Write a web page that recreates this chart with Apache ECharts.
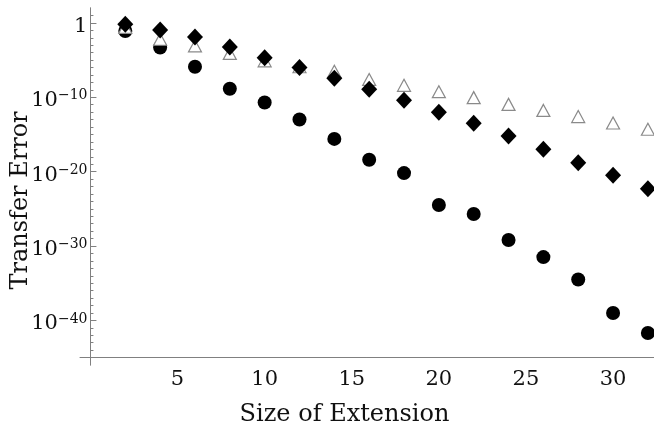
<!DOCTYPE html>
<html><head><meta charset="utf-8">
<script src="https://cdn.jsdelivr.net/npm/echarts@6/dist/echarts.min.js"></script>
<style>html,body{margin:0;padding:0;background:#fff}#c{width:654px;height:425px}</style>
</head><body><div id="c"></div>
<script>
// Size of extension
const sizes = [2,4,6,8,10,12,14,16,18,20,22,24,26,28,30,32];
// Transfer error
const circleErr = [7.9e-2,5.0e-4,1.26e-6,1.4e-9,2.0e-11,1.0e-13,2.5e-16,4.0e-19,6.3e-21,3.2e-25,2.0e-26,6.3e-30,3.2e-32,3.2e-35,1.0e-39,2.0e-42];
const diamondErr = [0.63,0.11,1.26e-2,5.6e-4,2.0e-5,1.0e-6,3.5e-8,1.15e-9,4.0e-11,1.0e-12,3.2e-14,6.3e-16,1.0e-17,1.6e-19,3.2e-21,5.0e-23];
const triangleErr = [0.25,6.3e-3,7.9e-4,7.9e-5,7.9e-6,1.26e-6,3.2e-7,2.5e-8,4.0e-9,5.6e-10,8.9e-11,1.1e-11,1.7e-12,2.5e-13,3.4e-14,5.0e-15];
// tick labels
const xTicks = [5,10,15,20,25,30];
const yMajor = [1e-40,1e-30,1e-20,1e-10,1];
const yMinor = [];
for (let e = -45; e <= 1; e++) yMinor.push(Math.pow(10, e));

const FONT = 'DejaVu Serif';
const pair = (ys) => sizes.map((x, i) => [x, ys[i]]);

const chart = echarts.init(document.getElementById('c'), null, {renderer: 'canvas'});
const axisColor = '#808080';
const X_MIN = -0.6, X_MAX = 32.35, GRID_LEFT = 80, GRID_RIGHT = 0;
const yOff = -(0 - X_MIN) / (X_MAX - X_MIN) * (654 - GRID_LEFT - GRID_RIGHT);
chart.setOption({
  animation: false,
  backgroundColor: '#ffffff',
  grid: {left: GRID_LEFT, right: GRID_RIGHT, top: 8, bottom: 60, containLabel: false, outerBoundsMode: 'none'},
  xAxis: {
    type: 'value', min: X_MIN, max: X_MAX, offset: -7.4,
    axisLine: {show: true, onZero: false, lineStyle: {color: axisColor, width: 1}},
    axisTick: {show: false},
    splitLine: {show: false},
    axisLabel: {customValues: xTicks, margin: 11, color: '#111', fontFamily: FONT, fontSize: 21,
      formatter: v => String(v)},
    name: 'Size of Extension', nameLocation: 'middle', nameGap: 45, nameMoveOverlap: false,
    nameTextStyle: {fontFamily: FONT, fontSize: 24, color: '#111', padding: [0, 45, 0, 0]}
  },
  yAxis: [{
    type: 'log', logBase: 10, min: 1e-46, max: 100, position: 'left', offset: yOff,
    axisLine: {show: true, onZero: false, lineStyle: {color: axisColor, width: 1}},
    axisTick: {show: true, inside: true, length: 6, customValues: yMajor, lineStyle: {color: axisColor}},
    splitLine: {show: false},
    axisLabel: {customValues: yMajor, margin: 3, color: '#111', padding: [7, 0, 0, 0],
      formatter: v => {
        const e = Math.round(Math.log10(v));
        return e === 0 ? '{b|1}' : '{b|10}{s|' + String(e).replace('-', '\u2212') + '}';
      },
      rich: {
        b: {fontFamily: FONT, fontSize: 21, lineHeight: 24, color: '#111'},
        s: {fontFamily: FONT, fontSize: 14, lineHeight: 14, verticalAlign: 'top', color: '#111'}
      }},
    name: 'Transfer Error', nameLocation: 'middle', nameGap: 58, nameMoveOverlap: false,
    nameTextStyle: {fontFamily: FONT, fontSize: 24, color: '#111', padding: [0, 28, 0, 0]}
  }, {
    type: 'log', logBase: 10, min: 1e-46, max: 100, position: 'left', offset: yOff,
    axisLine: {show: true, onZero: false, lineStyle: {color: axisColor, width: 1}},
    axisTick: {show: true, inside: true, length: 3, customValues: yMinor, lineStyle: {color: axisColor}},
    splitLine: {show: false},
    axisLabel: {show: false}
  }],
  series: [{
    name: 'circle', type: 'scatter', data: pair(circleErr),
    symbol: 'circle', symbolSize: 14, itemStyle: {color: '#000', opacity: 1}, z: 2
  }, {
    name: 'triangle', type: 'scatter', data: pair(triangleErr),
    symbol: 'triangle', symbolSize: [13, 12],
    itemStyle: {color: '#fff', borderColor: '#8a8a8a', borderWidth: 1.2, opacity: 1}, z: 3
  }, {
    name: 'diamond', type: 'scatter', data: pair(diamondErr),
    symbol: 'diamond', symbolSize: [16, 17], itemStyle: {color: '#000', opacity: 1}, z: 4
  }]
});
</script></body></html>
